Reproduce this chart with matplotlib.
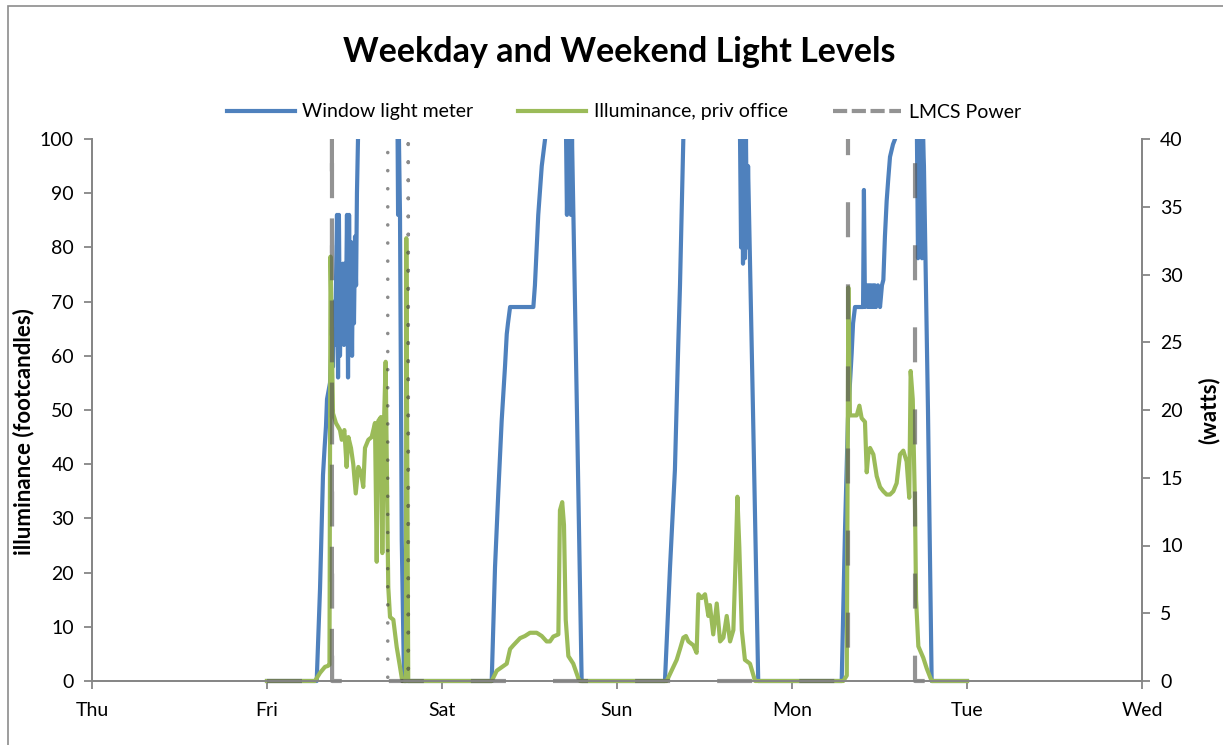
import matplotlib
matplotlib.use("Agg")
import matplotlib.pyplot as plt
from matplotlib.lines import Line2D
from matplotlib.patches import Rectangle
from matplotlib.transforms import Bbox, TransformedBbox

plt.rcParams['font.family'] = ['Lato', 'DejaVu Sans']

# time axis in days from Thu 00:00
day_labels = ['Thu', 'Fri', 'Sat', 'Sun', 'Mon', 'Tue', 'Wed']

# Window light meter (footcandles); >100 runs off the top
window_t = [1.000, 1.274, 1.284, 1.303, 1.320, 1.329, 1.337, 1.343, 1.360, 1.366,
            1.371, 1.377, 1.383, 1.389, 1.394, 1.400, 1.406, 1.411, 1.417, 1.423,
            1.429, 1.434, 1.440, 1.446, 1.451, 1.457, 1.463, 1.469, 1.474, 1.480,
            1.486, 1.491, 1.497, 1.503, 1.509, 1.514, 1.520, 1.531, 1.737, 1.746,
            1.749, 1.754, 1.760, 1.770, 1.783,
            2.284, 2.303, 2.322, 2.341, 2.360, 2.370, 2.377, 2.389, 2.522, 2.531,
            2.541, 2.550, 2.560, 2.570, 2.589, 2.600, 2.703, 2.709, 2.714, 2.720,
            2.726, 2.731, 2.737, 2.743, 2.771, 2.798,
            3.274, 3.303, 3.331, 3.350, 3.360, 3.370, 3.379, 3.389, 3.697, 3.703,
            3.709, 3.714, 3.720, 3.726, 3.731, 3.737, 3.743, 3.749, 3.777, 3.807,
            4.284, 4.303, 4.320, 4.341, 4.349, 4.360, 4.406, 4.411, 4.417, 4.429,
            4.434, 4.440, 4.446, 4.451, 4.457, 4.463, 4.469, 4.474, 4.480, 4.491,
            4.503, 4.514, 4.522, 4.531, 4.541, 4.550, 4.560, 4.577, 4.589, 4.600,
            4.709, 4.714, 4.720, 4.726, 4.731, 4.737, 4.743, 4.749, 4.754, 4.777,
            4.798, 5.000]
window_fc = [0, 0, 0, 17, 38, 43, 47, 52, 55, 60,
             66, 58, 70, 62, 73, 86, 56, 86, 60, 70,
             65, 77, 62, 77, 68, 86, 56, 86, 70, 81,
             60, 78, 66, 82, 73, 90, 100, 150, 150, 100,
             86, 100, 86, 26, 0,
             0, 21, 35, 48, 58, 64, 66, 69, 69, 73,
             80, 86, 90.6, 95, 100, 150, 150, 100, 86, 100,
             88, 100, 86, 100, 50, 0,
             0, 21, 39, 62, 73, 87, 100, 150, 150, 100,
             80, 100, 77, 100, 78, 100, 80, 95, 50, 0,
             0, 28, 48.5, 60.5, 66, 69, 69, 90.6, 69, 73,
             69, 73, 69, 73, 69, 73, 69, 73, 69, 73,
             69, 73, 74, 82, 88.6, 92.6, 96.7, 99, 100, 150,
             150, 100, 78, 100, 80, 100, 78, 100, 95, 50,
             0, 0]

# Illuminance, private office (footcandles)
office_t = [1.000, 1.274, 1.303, 1.331, 1.349, 1.357, 1.363, 1.377, 1.394, 1.417,
            1.427, 1.442, 1.455, 1.465, 1.480, 1.493, 1.507, 1.522, 1.537, 1.550,
            1.560, 1.579, 1.598, 1.617, 1.627, 1.636, 1.651, 1.659, 1.670, 1.678,
            1.684, 1.690, 1.693, 1.703, 1.722, 1.741, 1.760, 1.773, 1.794, 1.796,
            1.807,
            2.284, 2.313, 2.370, 2.389, 2.408, 2.446, 2.474, 2.503, 2.541, 2.570,
            2.598, 2.617, 2.636, 2.665, 2.674, 2.687, 2.697, 2.707, 2.722, 2.750,
            2.779, 2.789,
            3.284, 3.341, 3.360, 3.379, 3.394, 3.408, 3.436, 3.455, 3.465, 3.484,
            3.503, 3.522, 3.531, 3.550, 3.570, 3.589, 3.608, 3.627, 3.646, 3.665,
            3.680, 3.688, 3.699, 3.713, 3.731, 3.760, 3.789,
            4.293, 4.313, 4.322, 4.331, 4.370, 4.385, 4.398, 4.417, 4.427, 4.436,
            4.446, 4.465, 4.484, 4.503, 4.522, 4.541, 4.560, 4.579, 4.598, 4.617,
            4.636, 4.655, 4.670, 4.678, 4.690, 4.703, 4.709, 4.722, 4.750, 4.770,
            4.798, 5.000]
office_fc = [0, 0, 1.5, 2.6, 2.8, 3, 78.3, 49.4, 47.6, 46.3,
             44.5, 46.3, 39.5, 45, 43, 40, 34.6, 39.5, 38.5, 35.8,
             43, 44.5, 45, 47.6, 22, 48, 48.7, 23.6, 49.4, 58.9,
             42, 24.7, 17.3, 11.8, 11.3, 6.3, 2.6, 0, 0, 81.7,
             0,
             0, 1.9, 3.2, 5.9, 6.6, 7.9, 8.3, 8.9, 8.9, 8.3,
             7.3, 7.3, 8.2, 8.6, 31.5, 33, 28.8, 11.3, 4.6, 3.2,
             0.5, 0,
             0, 3.9, 5.9, 8, 8.3, 7.3, 6.6, 5.2, 16, 15.3,
             16, 12, 14, 8.6, 14.3, 7.3, 8, 12, 7.3, 9.4,
             24.7, 34, 24.7, 9.4, 3.9, 3.2, 0,
             0, 1, 72.6, 49, 49, 50.8, 48.5, 47.8, 38.5, 41.8,
             43, 41.8, 37.8, 35.8, 35, 34.4, 34.4, 35, 36.5, 41.8,
             42.5, 40.5, 33.8, 57.2, 52, 31.8, 15, 6.4, 4.3, 2.3,
             0, 0]

# LMCS power (watts, right axis); 60 W is off the top of the scale
power_t = [1.000, 1.371, 1.371, 1.372, 4.320, 4.320, 4.703, 4.703, 5.000]
power_w = [0, 0, 60, 0, 0, 60, 60, 0, 0]

# second power trace shown dotted on Friday evening (not in legend)
power2_t = [1.690, 1.690, 1.807, 1.807, 1.808]
power2_w = [39, 0, 0, 60, 0]

blue = '#4F81BD'
green = '#9BBB59'
axis_grey = '#868686'

fig = plt.figure(figsize=(12.23, 7.45), dpi=100)
fig.patches.append(Rectangle((8 / 1223, -0.01), 1.02, 1 - 6 / 745 + 0.01,
                             transform=fig.transFigure, fill=False,
                             edgecolor='#8c8c8c', linewidth=1.2))

ax = fig.add_axes([92 / 1223, 1 - 681 / 745, 1050 / 1223, 542 / 745])
ax2 = ax.twinx()

l1, = ax.plot(window_t, window_fc, color=blue, lw=3.0, label='Window light meter')
l2, = ax.plot(office_t, office_fc, color=green, lw=3.0, label='Illuminance, priv office')
l3, = ax2.plot(power_t, power_w, color='#595959', alpha=0.65, lw=3.0,
               dashes=(8.4, 11.3), label='LMCS Power')
l4, = ax2.plot(power2_t, power2_w, color='#404040', alpha=0.6, lw=2.6,
               dashes=(0.01, 5.0), dash_capstyle='round')

# let lines sitting on zero show fully over the axis line
clip = TransformedBbox(Bbox([[0, -0.008], [1, 1]]), ax.transAxes)
for ln in (l1, l2, l3, l4):
    ln.set_clip_box(clip)

ax.set_xlim(0, 6)
ax.set_ylim(0, 100)
ax2.set_ylim(0, 40)
ax.set_xticks(range(7))
ax.set_xticklabels(day_labels)
ax.set_yticks(range(0, 101, 10))
ax2.set_yticks(range(0, 41, 5))

for a in (ax, ax2):
    a.spines['top'].set_visible(False)
    for s in ('left', 'right', 'bottom'):
        a.spines[s].set_color(axis_grey)
        a.spines[s].set_linewidth(1.3)
    a.tick_params(colors=axis_grey, labelcolor='black', labelsize=14,
                  length=6, width=1.3, direction='out')
ax.tick_params(axis='x', pad=9)
ax.tick_params(axis='y', pad=7)
ax2.tick_params(axis='y', pad=7)

ax.set_ylabel('illuminance (footcandles)', fontsize=16, fontweight='bold')
ax.yaxis.set_label_coords(-0.055, 0.46)
ax2.set_ylabel('(watts)', fontsize=16, fontweight='bold', rotation=90)
ax2.yaxis.set_label_coords(1.053, 0.5)

fig.text(0.506, 1 - 52 / 745, 'Weekday and Weekend Light Levels',
         ha='center', va='center', fontsize=24.5, fontweight='bold')

handles = [l1, l2, Line2D([], [], color='#595959', alpha=0.65, lw=3.0, dashes=(3.4, 1.1))]
fig.legend(handles, [h.get_label() for h in (l1, l2, l3)], loc='center',
           bbox_to_anchor=(0.51, 1 - 112 / 745), ncol=3, frameon=False,
           fontsize=14, handlelength=3.5, handletextpad=0.4, columnspacing=2.3)

fig.savefig('out.png', dpi=100)
